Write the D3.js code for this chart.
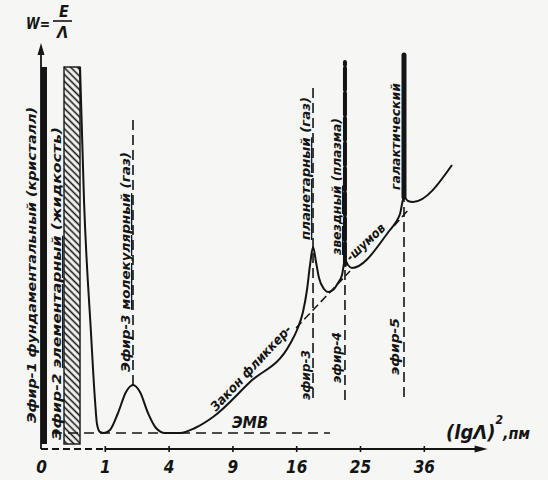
<!DOCTYPE html>
<html>
<head>
<meta charset="utf-8">
<script src="https://cdn.jsdelivr.net/npm/d3@7"></script>
<style>
  html, body { margin: 0; padding: 0; background: #f6f6f4; }
  svg { display: block; }
  text {
    font-family: "DejaVu Sans Condensed", "DejaVu Sans", sans-serif;
    font-style: italic;
    font-weight: bold;
    fill: #141414;
  }
</style>
</head>
<body>
<div id="chart"></div>
<script>
// ось X: (lgΛ)², ось Y: W = E/Λ (условные единицы)
const xTickValues = [0, 1, 4, 9, 16, 25, 36];
const xTickLabels = ['0', '1', '4', '9', '16', '25', '36'];

// спектральная кривая
const curveX = [0.374, 0.454, 0.614, 0.716, 0.770, 0.855, 0.975, 1.170, 1.457, 1.775,
  2.079, 2.408, 2.813, 3.249, 3.778, 4.747, 5.826, 7.268, 10.73, 15.23,
  16.10, 16.86, 17.38, 17.78, 18.18, 18.58, 18.99, 19.68, 20.24, 20.95,
  21.67, 22.26, 22.70, 23.15, 23.76, 29.92, 30.96, 31.66, 32.37, 33.09,
  34.00, 41.50];
const curveW = [95.5, 62.25, 29, 12.25, 6.25, 4.25, 4, 4.75, 9, 14.25,
  16, 14.25, 9, 5.25, 4, 4, 5.25, 8, 16.75, 26.25,
  29.75, 34.25, 39.75, 46, 50.5, 46.75, 42.75, 40, 39.25, 39.75,
  41.5, 43.5, 47.25, 46, 45.25, 54.75, 56.75, 58.75, 63, 62,
  61.75, 71];

// продолжение закона фликкер-шумов (пунктир)
const flickerSeg1 = [[15.98, 30.25], [23.46, 44.5]];
const flickerSeg2 = [[30.61, 55.75], [33.45, 60.25]];

// уровень ЭМВ
const emvX = [0.03, 20.52];
const emvW = 4;

// эфир-1 (сплошной) и эфир-2 (штриховка) — полосы у начала оси
const ether1X = [0, 0.0088];
const ether2X = [0.13, 0.374];
const blockW = [1.25, 95.5];

// вертикальные пунктирные уровни: молекулярный, планетарный, звездный, галактический
const levelX = [2.079, 18.18, 22.70, 32.37];
const levelLowW = [16, 12.75, 12.25, 13];
const levelHighW = [82.75, 91.5, 46, 63];

// толстые линии: звездный (штрих) и галактический (сплошной)
const barX = [22.70, 32.37];
const barLowW = [46, 63];
const barHighW = [96.75, 98.5];

const ink = '#141414';
const width = 548, height = 480;

const svg = d3.select('#chart').append('svg')
  .attr('width', width)
  .attr('height', height);

const x = d3.scaleSqrt().domain([0, 49]).range([41, 487.6]);
const y = d3.scaleLinear().domain([0, 100]).range([449, 49]);

// штриховка для эфира-2
svg.append('defs').append('pattern')
  .attr('id', 'hatch')
  .attr('patternUnits', 'userSpaceOnUse')
  .attr('width', 4.8)
  .attr('height', 4.8)
  .attr('patternTransform', 'rotate(-45)')
  .append('line')
  .attr('x1', 2.4).attr('y1', 0)
  .attr('x2', 2.4).attr('y2', 4.8)
  .attr('stroke', ink)
  .attr('stroke-width', 1.6);

// уровень ЭМВ
svg.append('line')
  .attr('x1', x(emvX[0])).attr('x2', x(emvX[1]))
  .attr('y1', y(emvW)).attr('y2', y(emvW))
  .attr('stroke', ink).attr('stroke-width', 1.6)
  .attr('stroke-dasharray', '10,6');

// эфир-1
svg.append('rect')
  .attr('x', x(ether1X[0]))
  .attr('width', x(ether1X[1]) - x(ether1X[0]))
  .attr('y', y(blockW[1]))
  .attr('height', y(blockW[0]) - y(blockW[1]))
  .attr('fill', ink);

// эфир-2
svg.append('rect')
  .attr('x', x(ether2X[0]))
  .attr('width', x(ether2X[1]) - x(ether2X[0]))
  .attr('y', y(blockW[1]))
  .attr('height', y(blockW[0]) - y(blockW[1]))
  .attr('fill', 'url(#hatch)')
  .attr('stroke', ink)
  .attr('stroke-width', 1.4);

// вертикальные пунктиры
svg.selectAll('.level')
  .data(levelX)
  .enter()
  .append('line')
  .attr('class', 'level')
  .attr('x1', d => x(d)).attr('x2', d => x(d))
  .attr('y1', (d, i) => y(levelLowW[i]))
  .attr('y2', (d, i) => y(levelHighW[i]))
  .attr('stroke', ink).attr('stroke-width', 1.6)
  .attr('stroke-dasharray', '10,5');

// пунктирное продолжение фликкер-закона
const straight = d3.line().x(d => x(d[0])).y(d => y(d[1]));
[flickerSeg1, flickerSeg2].forEach(seg => {
  svg.append('path')
    .attr('d', straight(seg))
    .attr('fill', 'none')
    .attr('stroke', ink).attr('stroke-width', 1.5)
    .attr('stroke-dasharray', '8,4');
});

// кривая
const curve = d3.line()
  .x(d => x(d[0]))
  .y(d => y(d[1]))
  .curve(d3.curveMonotoneX);

svg.append('path')
  .datum(d3.zip(curveX, curveW))
  .attr('d', curve)
  .attr('fill', 'none')
  .attr('stroke', ink)
  .attr('stroke-width', 2);

// толстые линии эфира-4 и эфира-5
svg.selectAll('.bar')
  .data(barX)
  .enter()
  .append('line')
  .attr('class', 'bar')
  .attr('x1', d => x(d)).attr('x2', d => x(d))
  .attr('y1', (d, i) => y(barLowW[i]))
  .attr('y2', (d, i) => y(barHighW[i]))
  .attr('stroke', ink)
  .attr('stroke-width', (d, i) => i === 0 ? 4 : 5)
  .attr('stroke-linecap', 'round')
  .attr('stroke-dasharray', (d, i) => i === 0 ? '22,3' : null);

// ось X
const xAxis = d3.axisBottom(x)
  .tickValues(xTickValues)
  .tickFormat((d, i) => xTickLabels[i])
  .tickSizeInner(3)
  .tickSizeOuter(0);

const gx = svg.append('g')
  .attr('transform', `translate(0,${y(0)})`)
  .call(xAxis);
gx.select('.domain').remove();
gx.selectAll('.tick line')
  .attr('y1', -3).attr('y2', 3)
  .attr('stroke', ink).attr('stroke-width', 1.6)
  .filter(d => d === 0).remove();
gx.selectAll('.tick text')
  .attr('y', 24).attr('dy', null)
  .style('font-size', '17px');

const axisEnd = x(49);
svg.append('line')
  .attr('x1', x(0)).attr('x2', x(1))
  .attr('y1', y(0)).attr('y2', y(0))
  .attr('stroke', ink).attr('stroke-width', 1.8)
  .attr('stroke-dasharray', '7,4');
svg.append('line')
  .attr('x1', x(1)).attr('x2', axisEnd - 4)
  .attr('y1', y(0)).attr('y2', y(0))
  .attr('stroke', ink).attr('stroke-width', 1.8);
svg.append('path')
  .attr('d', `M${axisEnd},${y(0)} L${axisEnd - 13},${y(0) - 3.5} L${axisEnd - 13},${y(0) + 3.5} Z`)
  .attr('fill', ink);

// ось Y
const axisTop = y(101.5);
svg.append('line')
  .attr('x1', x(0)).attr('x2', x(0))
  .attr('y1', y(0)).attr('y2', axisTop + 4)
  .attr('stroke', ink).attr('stroke-width', 1.8);
svg.append('path')
  .attr('d', `M${x(0)},${axisTop} L${x(0) - 3.5},${axisTop + 12} L${x(0) + 3.5},${axisTop + 12} Z`)
  .attr('fill', ink);

// подпись оси Y: W = E/Λ
svg.append('text').attr('x', 26).attr('y', 29)
  .style('font-size', '16px').attr('textLength', 24).attr('lengthAdjust', 'spacingAndGlyphs')
  .text('W=');
svg.append('text').attr('x', 59).attr('y', 17)
  .style('font-size', '16px')
  .text('E');
svg.append('line')
  .attr('x1', 53).attr('x2', 72).attr('y1', 21).attr('y2', 21)
  .attr('stroke', ink).attr('stroke-width', 1.6);
svg.append('text').attr('x', 57).attr('y', 38)
  .style('font-size', '16px')
  .text('Λ');

// подпись оси X одним текстом: (lgΛ)²,пм
const xTitle = svg.append('text').attr('x', 446).attr('y', 439)
  .style('font-size', '20px');
xTitle.append('tspan').text('(lgΛ)');
xTitle.append('tspan').attr('dy', -15).style('font-size', '12px').text('2');
xTitle.append('tspan').attr('dy', 15).style('font-size', '16px').text(',пм');

// вертикальные подписи
function vLabel(parts, bx, by, len, size = 13) {
  const t = svg.append('text')
    .attr('transform', `translate(${bx},${by}) rotate(-90)`)
    .attr('textLength', len)
    .attr('lengthAdjust', 'spacingAndGlyphs')
    .style('font-size', size + 'px');
  parts.forEach(p => {
    t.append('tspan')
      .style('text-decoration', p[1] ? 'underline' : null)
      .text(p[0]);
  });
}

vLabel([['Эфир-1 фундаментальный (кристалл)', false]], x(0) - 5, 423, 316);
vLabel([['Эфир-2 ', false], ['элементарный', true], [' (жидкость)', false]], x(ether2X[0]) - 3, 440, 313);
vLabel([['Эфир-3 ', false], ['молекулярный', true], [' (газ)', false]], x(levelX[0]) - 3, 372, 220);
vLabel([['планетарный', true], [' (газ)', false]], x(levelX[1]) - 3, 240, 143);
vLabel([['звездный', true], [' (плазма)', false]], x(levelX[2]) - 4, 255, 137);
vLabel([['галактический', false]], x(levelX[3]) - 4, 190, 107);
vLabel([['эфир-3', false]], x(levelX[1]) - 3, 400, 50);
vLabel([['эфир-4', false]], x(levelX[2]) - 4, 383, 51);
vLabel([['эфир-5', false]], x(levelX[3]) - 5, 375, 57);

// наклонные подписи вдоль кривой
svg.append('text')
  .attr('transform', 'translate(216,412) rotate(-47)')
  .attr('textLength', 112).attr('lengthAdjust', 'spacingAndGlyphs')
  .style('font-size', '13px')
  .text('Закон фликкер-');
svg.append('text')
  .attr('transform', 'translate(351,262) rotate(-43)')
  .attr('textLength', 48).attr('lengthAdjust', 'spacingAndGlyphs')
  .style('font-size', '13px')
  .text('-шумов');

svg.append('text')
  .attr('x', 232).attr('y', 428)
  .attr('textLength', 36).attr('lengthAdjust', 'spacingAndGlyphs')
  .style('font-size', '15px')
  .text('ЭМВ');
</script>
</body>
</html>
